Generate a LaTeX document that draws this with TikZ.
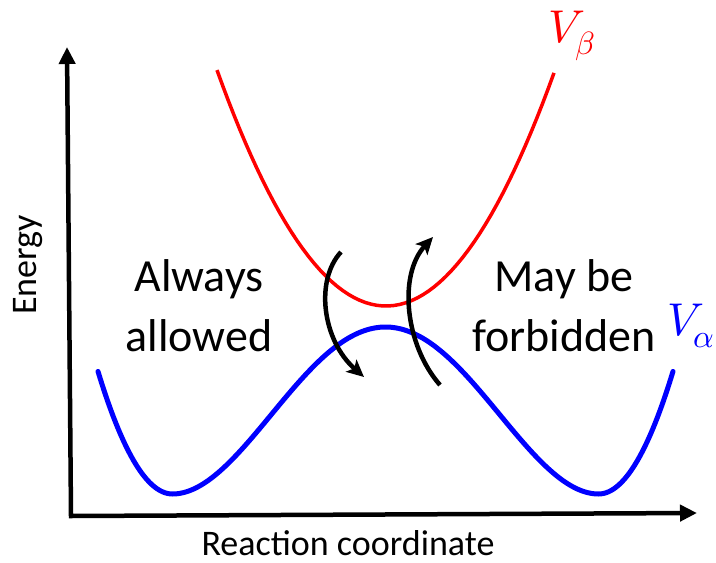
\documentclass[tikz,border=0pt]{standalone}
\usepackage{fontspec}
\usepackage{unicode-math}
\setmainfont{Carlito}
\usetikzlibrary{arrows.meta,positioning}
\definecolor{surfblue}{HTML}{0000FF}
\definecolor{surfred}{HTML}{FF0000}
\tikzset{
  axis/.style={line width=4.5pt,{Triangle[length=17pt,width=16pt]}-{Triangle[length=17pt,width=16pt]}},
  lowersurf/.style={surfblue,line width=5pt,line cap=round,line join=round},
  uppersurf/.style={surfred,line width=3.5pt},
  hop/.style={line width=4.5pt,-{Stealth[length=17pt,width=16pt,inset=4pt]}},
  regime/.style={align=center,inner sep=0pt,font=\fontsize{46}{60}\selectfont},
  surflabel/.style={inner sep=0pt,font=\fontsize{46}{50}\selectfont},
  axislabel/.style={inner sep=0pt,font=\fontsize{36}{40}\selectfont}
}
\begin{document}
\begin{tikzpicture}[x=1pt,y=-1pt]
  \useasboundingbox (0,0) rectangle (716,563);
  \coordinate (origin) at (71,516);
  \coordinate (ytip) at (67,47);
  \coordinate (xtip) at (697,513);
  \draw[axis] (ytip) -- (origin) -- (xtip);

  \node[axislabel,rotate=90] (energy) at (28,265) {Energy};
  \node[axislabel,anchor=base] (coord) at (348,555) {Reaction coordinate};

  \draw[uppersurf] plot[domain=217:554,samples=60] (\x,{306-0.826*((\x-386)/10)^2});
  \draw[lowersurf] plot[domain=98:172.5,samples=30] (\x,{494-1002*((\x-172.5)/213)^2})
    -- plot[domain=172.5:598.5,samples=120]
    (\x,{494-83.5*((((\x-385.5)/213)^2-1)^2+(1+cos(0.84507*(\x-385.5)))/2)})
    -- plot[domain=598.5:673,samples=30] (\x,{494-1002*((\x-598.5)/213)^2});

  \node[surflabel,surfred] (vbeta) at (572,36) {$V_\beta$};
  \node[surflabel,surfblue] (valpha) at (691,326) {$V_\alpha$};

  \node[regime] (allowed) at (199,306) {Always\\allowed};
  \node[regime] (forbidden) at (564,306) {May be\\forbidden};

  \coordinate (downA) at (341,252);
  \coordinate (downB) at (364,377);
  \coordinate (upA) at (440,385);
  \coordinate (upB) at (433,237);
  \draw[hop] (downA) .. controls (315,280) and (322,340) .. (downB);
  \draw[hop] (upA) .. controls (405,345) and (398,275) .. (upB);
\end{tikzpicture}
\end{document}
